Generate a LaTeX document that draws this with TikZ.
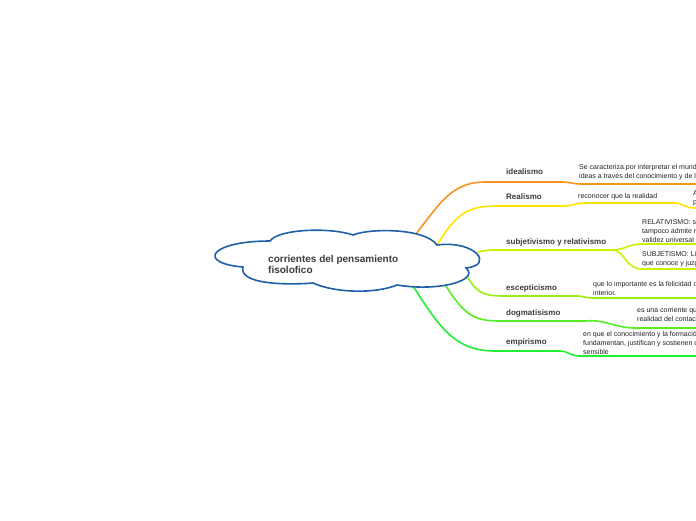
\documentclass[tikz,border=0pt]{standalone}
\usepackage{fontspec}
\setmainfont{Liberation Sans}
\definecolor{nubeAzul}{HTML}{1F5FA8}
\definecolor{cIdeal}{HTML}{F7941E}
\definecolor{cReal}{HTML}{FFE400}
\definecolor{cSubj}{HTML}{CCF000}
\definecolor{cEsce}{HTML}{99EE11}
\definecolor{cDogm}{HTML}{55EE22}
\definecolor{cEmpi}{HTML}{22EE33}
\definecolor{txGris}{HTML}{3C3C3C}
\definecolor{txNegro}{HTML}{222222}
\tikzset{
  rama/.style={line width=1.6pt, line cap=round},
  etiqueta/.style={font=\bfseries\fontsize{8}{9}\selectfont, text=txGris, inner sep=0pt, anchor=west},
  texto/.style={font=\fontsize{7}{9}\selectfont, text=txNegro, inner sep=0pt, anchor=west, align=left},
}

\begin{document}
\begin{tikzpicture}[x=1pt,y=-1pt]
  \useasboundingbox (0,0) rectangle (696,520);
  \clip (0,0) rectangle (696,520);
  % puntos de salida en el borde de la nube
  \coordinate (i0) at (416,234);
  \coordinate (r0) at (437,245);
  \coordinate (s0) at (478,252);
  \coordinate (e0) at (468,278);
  \coordinate (d0) at (446,286);
  \coordinate (m0) at (413,286);
  \coordinate (sx) at (612,250);
  % ramas
  \draw[rama, cIdeal] (i0) .. controls (440,203) and (452,182) .. (485,182) -- (563,182)
       .. controls (570,182) and (572,184) .. (582,184) -- (700,184);
  \draw[rama, cReal] (r0) .. controls (455,216) and (466,206) .. (495,206) -- (565,206)
       .. controls (572,206) and (575,203) .. (585,203) -- (675,203)
       .. controls (682,203) and (685,208) .. (695,208) -- (700,208);
  \draw[rama, cSubj] (s0) .. controls (488,250) .. (500,250) -- (sx);
  \draw[rama, cSubj] (sx) .. controls (625,250) and (628,244) .. (642,244) -- (700,244);
  \draw[rama, cSubj] (sx) .. controls (625,250) and (625,269) .. (642,269) -- (700,269);
  \draw[rama, cEsce] (e0) .. controls (478,294) and (485,296) .. (505,296) -- (578,296)
       .. controls (583,296) and (585,298) .. (592,298) -- (700,298);
  \draw[rama, cDogm] (d0) .. controls (465,316) and (475,321) .. (500,321) -- (585,321)
       .. controls (605,319) and (615,328) .. (635,328) -- (700,328);
  \draw[rama, cEmpi] (m0) .. controls (440,328) and (455,351) .. (495,351) -- (560,351)
       .. controls (568,351) and (570,356) .. (580,356) -- (700,356);
  % nube central
  \draw[nubeAzul, line width=1.6pt, fill=white]
    (270,241) .. controls (278,229) and (330,227) .. (353,235)
    .. controls (370,228) and (425,228) .. (437,245)
    .. controls (475,240) and (495,265) .. (466,268)
    .. controls (480,280) and (440,292) .. (397,285)
    .. controls (375,294) and (335,293) .. (313,283)
    .. controls (290,285) and (238,285) .. (243,267)
    .. controls (196,263) and (210,241) .. (270,241) -- cycle;
  \node[etiqueta, font=\bfseries\fontsize{10}{11}\selectfont, align=left] (main) at (268,264.5)
    {corrientes del pensamiento\\fisolofico};
  % etiquetas de las ramas
  \node[etiqueta] (ideal) at (506,172) {idealismo};
  \node[etiqueta] (real) at (506,197) {Realismo};
  \node[etiqueta] (subj) at (506,242) {subjetivismo y relativismo};
  \node[etiqueta] (esce) at (506,288) {escepticismo};
  \node[etiqueta] (dogm) at (506,313) {dogmatisismo};
  \node[etiqueta] (empi) at (506,342) {empirismo};
  % textos
  \node[texto] (idealT) at (579,172.5) {Se caracteriza por interpretar el mundo\\ideas a través del conocimiento y de la};
  \node[texto] (realT) at (578,197) {reconocer que la realidad};
  \node[texto] (realT2) at (693,198.5) {A\\p};
  \node[texto] (relT) at (642,231) {RELATIVISMO: s\\tampoco admite n\\validez universal};
  \node[texto] (subjT) at (642,259.5) {SUBJETISMO: Li\\que conoce y juzga};
  \node[texto] (esceT) at (593,288.5) {que lo importante es la felicidad o\\interior.};
  \node[texto] (dogmT) at (637,314) {es una corriente que\\realidad del contacto};
  \node[texto] (empiT) at (583,342.5) {en que el conocimiento y la formación\\fundamentan, justifican y sostienen c\\sensible};
\end{tikzpicture}
\end{document}
